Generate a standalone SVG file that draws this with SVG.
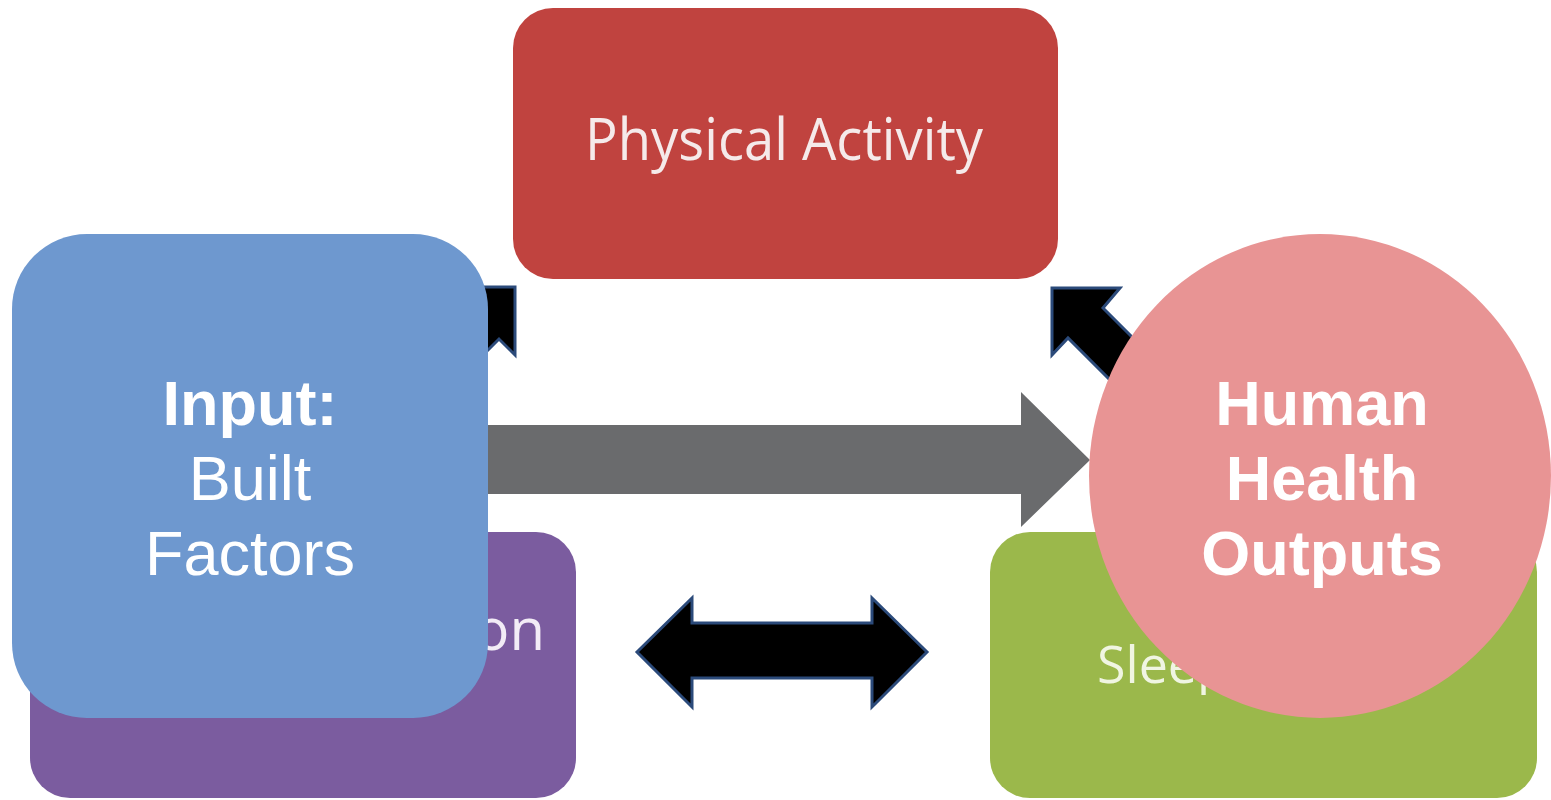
<svg xmlns="http://www.w3.org/2000/svg" width="1551" height="800" viewBox="0 0 1551 800">
<style>
.lbl{font-family:"Open Sans","Noto Sans",sans-serif;}
.big{font-family:"Liberation Sans",Arial,sans-serif;font-size:63px;fill:#ffffff;text-anchor:middle;}
.blk{fill:#000000;stroke:#2B4A7A;stroke-width:3;stroke-linejoin:miter;}
</style>
<rect width="1551" height="800" fill="#ffffff"/>
<g id="physical-activity">
<rect x="513" y="8" width="545" height="271" rx="40" fill="#C0433F"/>
<text class="lbl" x="585" y="160" font-size="58" fill="#F5EAEA" textLength="398" lengthAdjust="spacingAndGlyphs">Physical Activity</text>
</g>
<g id="social">
<rect x="30" y="532" width="546" height="266" rx="40" fill="#7B5C9F"/>
<text class="lbl" x="545" y="650" font-size="58" fill="#F2ECF6" text-anchor="end">on</text>
</g>
<g id="sleep">
<rect x="990" y="532" width="547" height="266" rx="40" fill="#9BB84B"/>
<text class="lbl" x="1097" y="683" font-size="52" fill="#F0F5E2">Sleep</text>
</g>
<g id="connectors">
<polygon class="blk" points="515,287 447,287 464,307 344,427 379,459 499,339 515,355"/>
<polygon class="blk" points="1052,288 1120,288 1103,308 1223,428 1188,458 1068,338 1052,355"/>
<polygon class="blk" points="637,652 692,598 692,623 872,623 872,598 927,652 872,707 872,678 692,678 692,707"/>
<polygon fill="#6A6B6D" points="470,425 1021,425 1021,392 1090,460 1021,527 1021,494 470,494"/>
</g>
<g id="input">
<rect x="12" y="234" width="476" height="484" rx="75" fill="#6E98CF"/>
<text class="big" x="250" y="425" font-weight="bold">Input:</text>
<text class="big" x="250" y="500">Built</text>
<text class="big" x="250" y="575">Factors</text>
</g>
<g id="outputs">
<ellipse cx="1320" cy="476" rx="231" ry="242" fill="#E89494"/>
<text class="big" x="1322" y="425" font-weight="bold">Human</text>
<text class="big" x="1322" y="500" font-weight="bold">Health</text>
<text class="big" x="1322" y="575" font-weight="bold">Outputs</text>
</g>
</svg>
